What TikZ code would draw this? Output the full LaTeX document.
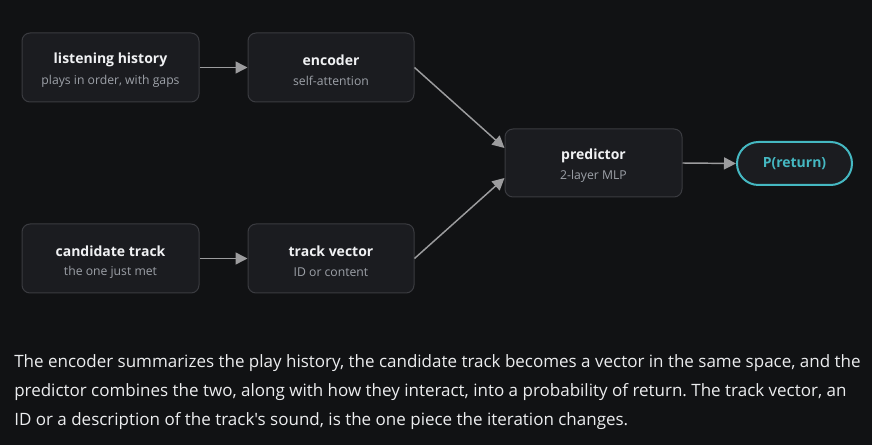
\documentclass[tikz,border=0pt]{standalone}
\usepackage{fontspec}
\setmainfont{Open Sans}[Ligatures=TeXOff]
\usetikzlibrary{arrows.meta,shapes.misc}
\definecolor{bg}{HTML}{111214}
\definecolor{boxfill}{HTML}{1B1C20}
\definecolor{boxline}{HTML}{3A3B40}
\definecolor{titlec}{HTML}{F0F1F3}
\definecolor{subc}{HTML}{9DA1A8}
\definecolor{arrc}{HTML}{9C9C9E}
\definecolor{teal}{HTML}{45B8C2}
\definecolor{parac}{HTML}{ECEDEF}
\frenchspacing
\begin{document}
\begin{tikzpicture}[x=0.75pt,y=-0.75pt,
  blk/.style={draw=boxline, line width=0.75pt, fill=boxfill, rounded corners=6pt, inner sep=0pt, align=center},
  ttl/.style={font=\fontsize{10.5pt}{12pt}\selectfont\bfseries, text=titlec},
  sub/.style={font=\fontsize{9.15pt}{11pt}\selectfont, text=subc},
  conn/.style={draw=arrc, line width=1.1pt, -{Triangle[length=9pt,width=9pt]}},
  para/.style={font=\fontsize{12.75pt}{14pt}\selectfont\frenchspacing, text=parac, anchor=base west, inner sep=0pt}]
\fill[bg] (0,0) rectangle (872,445);
\useasboundingbox (0,0) rectangle (872,445);

\node[blk, minimum width=177*0.75pt, minimum height=69*0.75pt] (hist) at (110.5,67.5) {};
\node[ttl] (histt) at (110.5,60) {listening history};
\node[sub] (hists) at (110.5,81) {plays in order, with gaps};

\node[blk, minimum width=166*0.75pt, minimum height=69*0.75pt] (enc) at (331,67.5) {};
\node[ttl] (enct) at (331,60) {encoder};
\node[sub] (encs) at (331,81) {self-attention};

\node[blk, minimum width=177*0.75pt, minimum height=69*0.75pt] (cand) at (110.5,258.5) {};
\node[ttl] (candt) at (110.5,251) {candidate track};
\node[sub] (cands) at (110.5,272) {the one just met};

\node[blk, minimum width=166*0.75pt, minimum height=69*0.75pt] (tv) at (331,258.5) {};
\node[ttl] (tvt) at (331,251) {track vector};
\node[sub] (tvs) at (331,272) {ID or content};

\node[blk, minimum width=177*0.75pt, minimum height=68*0.75pt] (pred) at (593.5,163) {};
\node[ttl] (predt) at (593.5,155.5) {predictor};
\node[sub] (preds) at (593.5,176.5) {2-layer MLP};

\node[draw=teal, line width=1.5pt, fill=boxfill, rounded rectangle, minimum width=115*0.75pt, minimum height=43*0.75pt, inner sep=0pt,
  font=\fontsize{10.5pt}{12pt}\selectfont\bfseries, text=teal] (ret) at (794.5,163.5) {P(return)};

\draw[conn] (hist.east) -- (enc.west);
\draw[conn] (cand.east) -- (tv.west);
\draw[conn] (enc.east) -- ([yshift=11.25pt]pred.west);
\draw[conn] (tv.east) -- ([yshift=-11.25pt]pred.west);
\draw[conn] (pred.east) -- (ret.west);

\node[para] (p1) at (14,368) {The encoder summarizes the play history, the candidate track becomes a vector in the same space, and the};
\node[para] (p2) at (14,397) {predictor combines the two, along with how they interact, into a probability of return. The track vector, an};
\node[para] (p3) at (14,426) {ID or a description of the track's sound, is the one piece the iteration changes.};
\end{tikzpicture}
\end{document}
